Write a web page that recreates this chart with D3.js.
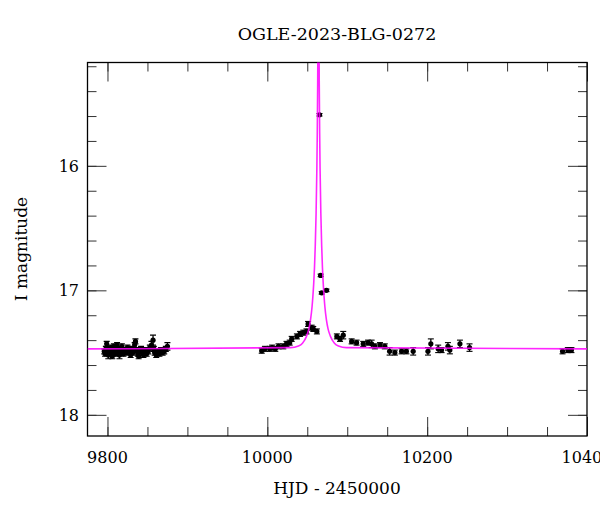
<!DOCTYPE html>
<html>
<head>
<meta charset="utf-8">
<script src="https://cdn.jsdelivr.net/npm/d3@7"></script>
<style>
  body { margin: 0; background: #fff; }
  text { font-family: "DejaVu Serif", serif; fill: #000; }
</style>
</head>
<body>
<svg id="chart" width="600" height="512"></svg>
<script>
// observed photometry (HJD - 2450000, I mag, error)
const obsDays = [
  9796, 9797, 9798, 9799, 9800, 9801, 9802, 9804, 9805, 9806, 9807, 9808, 9809, 9810,
  9811, 9812, 9813, 9814, 9815, 9816, 9818, 9819, 9820, 9822, 9824, 9825, 9827, 9829,
  9830, 9832, 9834, 9835, 9836, 9838, 9839, 9840, 9842, 9844, 9845, 9847, 9849, 9851,
  9853, 9855, 9857, 9858, 9859, 9861, 9863, 9865, 9867, 9869, 9871, 9873, 9875,
  9993, 9997, 10003, 10006, 10010, 10014, 10020, 10024, 10028, 10030.5, 10037, 10041,
  10045, 10049, 10051, 10055.5, 10057.5, 10062, 10065.3, 10066.7, 10068, 10074,
  10087, 10091, 10095, 10105.5, 10111.7, 10120, 10126, 10130.5, 10134.6, 10141, 10147,
  10153, 10159.6, 10168, 10174, 10182.5, 10201, 10204.6, 10213.8, 10218, 10226, 10228.4,
  10241, 10253,
  10369.4, 10376, 10380.5
]
const obsMags = [
  17.49, 17.51, 17.47, 17.43, 17.50, 17.52, 17.48, 17.46, 17.50, 17.53, 17.47, 17.45, 17.49, 17.51,
  17.46, 17.44, 17.48, 17.50, 17.52, 17.47, 17.45, 17.49, 17.51, 17.48, 17.50, 17.46, 17.49, 17.52,
  17.47, 17.50, 17.44, 17.41, 17.48, 17.51, 17.53, 17.49, 17.47, 17.50, 17.52, 17.48, 17.51, 17.49,
  17.46, 17.44, 17.40, 17.47, 17.50, 17.52, 17.49, 17.51, 17.48, 17.50, 17.49, 17.47, 17.45,
  17.485, 17.47, 17.47, 17.46, 17.47, 17.45, 17.45, 17.43, 17.42, 17.39, 17.37, 17.35,
  17.34, 17.33, 17.27, 17.30, 17.31, 17.33, 15.59, 16.88, 17.02, 17.00,
  17.37, 17.39, 17.36, 17.41, 17.42, 17.43, 17.42, 17.43, 17.45, 17.44, 17.45,
  17.49, 17.50, 17.49, 17.49, 17.49, 17.49, 17.43, 17.47, 17.48, 17.45, 17.48,
  17.43, 17.46,
  17.49, 17.48, 17.48
]
const obsErrs = [
  0.02, 0.02, 0.02, 0.02, 0.02, 0.03, 0.02, 0.02, 0.02, 0.02, 0.02, 0.02, 0.02, 0.02,
  0.02, 0.02, 0.02, 0.02, 0.03, 0.02, 0.02, 0.02, 0.02, 0.02, 0.02, 0.02, 0.02, 0.02,
  0.02, 0.02, 0.02, 0.02, 0.02, 0.02, 0.02, 0.02, 0.02, 0.02, 0.02, 0.02, 0.02, 0.02,
  0.02, 0.03, 0.04, 0.02, 0.02, 0.02, 0.02, 0.02, 0.02, 0.02, 0.02, 0.02, 0.03,
  0.02, 0.02, 0.02, 0.02, 0.02, 0.02, 0.02, 0.02, 0.02, 0.02, 0.02, 0.02,
  0.02, 0.02, 0.02, 0.02, 0.02, 0.02, 0.01, 0.01, 0.01, 0.01,
  0.02, 0.02, 0.03, 0.02, 0.02, 0.02, 0.02, 0.03, 0.02, 0.02, 0.02,
  0.03, 0.02, 0.02, 0.02, 0.03, 0.03, 0.04, 0.03, 0.02, 0.03, 0.03,
  0.03, 0.03,
  0.02, 0.02, 0.02
]

// model light curve
const modelDays = [
  9775, 10029, 10039, 10044, 10049, 10052, 10054, 10056, 10057, 10058, 10059, 10060,
  10061, 10062, 10062.5, 10063, 10063.5, 10064, 10064.5, 10065, 10065.5, 10066,
  10067, 10068, 10069, 10070, 10071, 10072, 10074, 10076, 10079, 10084, 10089, 10099, 10402
]
const modelMags = [
  17.47, 17.46, 17.447, 17.425, 17.37, 17.31, 17.24, 17.13, 17.05, 16.95, 16.82, 16.64,
  16.39, 16.02, 15.74, 15.35, 14.74, 14.2, 14.74, 15.35, 15.74, 16.02,
  16.39, 16.64, 16.82, 16.95, 17.05, 17.13, 17.24, 17.31, 17.37, 17.425, 17.447, 17.46, 17.47
]

const xMajor = [9800, 10000, 10200, 10400]
const yMajor = [16, 17, 18]
const titleText = 'OGLE-2023-BLG-0272'
const xLabel = 'HJD - 2450000'
const yLabel = 'I magnitude'

const margin = { left: 87.5, right: 587, top: 62.5, bottom: 436 }
const svg = d3.select('#chart')

const xScale = d3.scaleLinear().domain([9775, 10400]).range([margin.left, margin.right])
const yScale = d3.scaleLinear().domain([15.17, 18.17]).range([margin.top, margin.bottom])

svg.append('clipPath').attr('id', 'plotclip')
  .append('rect')
  .attr('x', margin.left).attr('y', margin.top)
  .attr('width', margin.right - margin.left).attr('height', margin.bottom - margin.top)

// ticks, all four sides, pointing inward
function drawTicks (axisGen, translate, major, minor, size) {
  const g = svg.append('g').attr('transform', translate)
  g.call(axisGen.tickValues(minor).tickSize(size.minor).tickFormat(''))
  g.call(g2 => g2.select('.domain').remove())
  const g3 = svg.append('g').attr('transform', translate)
  g3.call(axisGen.tickValues(major).tickSize(size.major).tickFormat(''))
  g3.call(g2 => g2.select('.domain').remove())
  svg.selectAll('.tick line').attr('stroke', '#333').attr('stroke-width', 1)
}

const xMinor = d3.range(9800, 10401, 50)
const yMinor = d3.range(15.2, 18.11, 0.2).map(v => +v.toFixed(1))
const sz = { major: 19, minor: 9 }

drawTicks(d3.axisTop(xScale), `translate(0,${margin.bottom})`, xMajor, xMinor, sz)
drawTicks(d3.axisBottom(xScale), `translate(0,${margin.top})`, xMajor, xMinor, sz)
drawTicks(d3.axisRight(yScale), `translate(${margin.left},0)`, yMajor, yMinor, sz)
drawTicks(d3.axisLeft(yScale), `translate(${margin.right},0)`, yMajor, yMinor, sz)

// tick labels (10400 runs off the right edge, as in the original)
svg.append('g').selectAll('text').data(xMajor).join('text')
  .attr('x', d => xScale(d)).attr('y', 463)
  .attr('text-anchor', 'middle').attr('font-size', 16)
  .text(d => d)
svg.append('g').selectAll('text').data(yMajor).join('text')
  .attr('x', 79).attr('y', d => yScale(d) + 6)
  .attr('text-anchor', 'end').attr('font-size', 16)
  .text(d => d)

// frame
svg.append('rect')
  .attr('x', margin.left).attr('y', margin.top)
  .attr('width', margin.right - margin.left).attr('height', margin.bottom - margin.top)
  .attr('fill', 'none').attr('stroke', '#000').attr('stroke-width', 1.3)

// data points with error bars
const obs = obsDays.map((d, i) => ({ t: d, m: obsMags[i], e: obsErrs[i] }))
const pts = svg.append('g').attr('clip-path', 'url(#plotclip)')
const bars = pts.selectAll('g').data(obs).join('g')
bars.append('line')
  .attr('x1', d => xScale(d.t)).attr('x2', d => xScale(d.t))
  .attr('y1', d => yScale(d.m - d.e)).attr('y2', d => yScale(d.m + d.e))
  .attr('stroke', '#000').attr('stroke-width', 1.3)
bars.selectAll('.cap').data(d => [d.m - d.e, d.m + d.e].map(v => ({ t: d.t, v })))
  .join('line').attr('class', 'cap')
  .attr('x1', d => xScale(d.t) - 3).attr('x2', d => xScale(d.t) + 3)
  .attr('y1', d => yScale(d.v)).attr('y2', d => yScale(d.v))
  .attr('stroke', '#000').attr('stroke-width', 1.1)
bars.append('circle')
  .attr('cx', d => xScale(d.t)).attr('cy', d => yScale(d.m))
  .attr('r', 2.6).attr('fill', '#000')

// model curve
const model = modelDays.map((d, i) => [d, modelMags[i]])
const line = d3.line()
  .x(d => xScale(d[0]))
  .y(d => yScale(d[1]))
  .curve(d3.curveMonotoneX)
svg.append('path')
  .datum(model)
  .attr('clip-path', 'url(#plotclip)')
  .attr('d', line)
  .attr('fill', 'none')
  .attr('stroke', '#ff00ff')
  .attr('stroke-opacity', 0.85)
  .attr('stroke-width', 1.6)

// titles
svg.append('text').attr('x', 337).attr('y', 40)
  .attr('text-anchor', 'middle').attr('font-size', 17.5)
  .text(titleText)
svg.append('text').attr('x', 337).attr('y', 494)
  .attr('text-anchor', 'middle').attr('font-size', 17)
  .text(xLabel)
svg.append('text')
  .attr('transform', 'translate(27,249) rotate(-90)')
  .attr('text-anchor', 'middle').attr('font-size', 17)
  .text(yLabel)
</script>
</body>
</html>
